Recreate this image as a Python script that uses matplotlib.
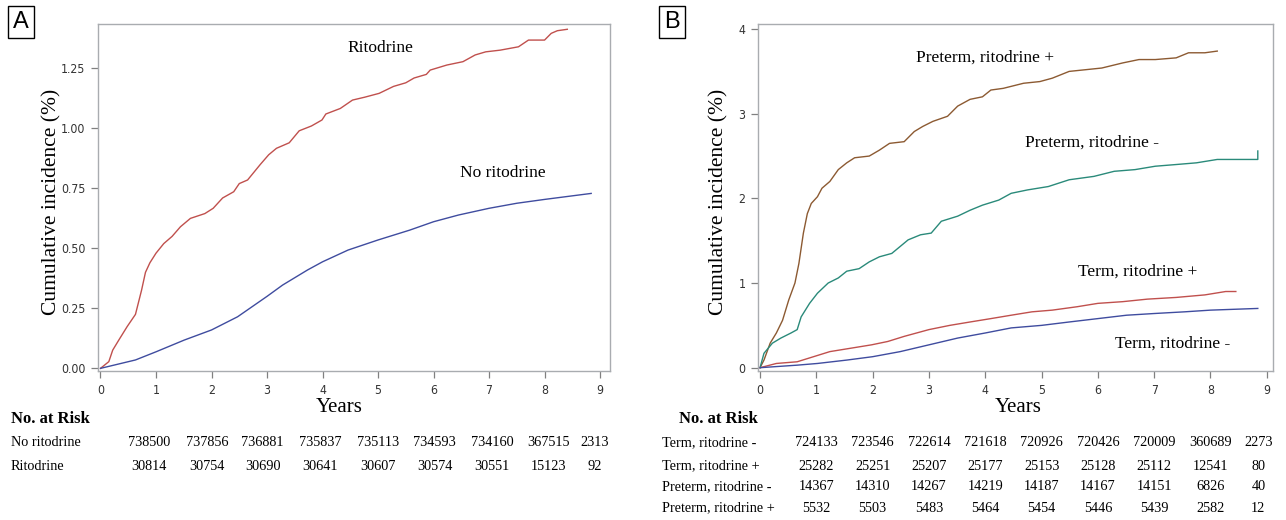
import matplotlib
matplotlib.use("Agg")
import matplotlib.pyplot as plt
import matplotlib.transforms as mtransforms
from matplotlib import font_manager

# ---- data ----
years_ticks = [0, 1, 2, 3, 4, 5, 6, 7, 8, 9]

# Panel A
rito_t = [0, 0.15, 0.22, 0.33, 0.48, 0.63, 0.74, 0.81, 0.89, 1.0, 1.14, 1.29, 1.44, 1.62, 1.88,
          2.03, 2.2, 2.4, 2.5, 2.65, 2.88, 3.03, 3.17, 3.4, 3.58, 3.8, 3.99, 4.06, 4.32, 4.54,
          4.76, 5.02, 5.28, 5.5, 5.65, 5.87, 5.94, 6.24, 6.53, 6.75, 6.94, 7.2, 7.53, 7.71,
          8.0, 8.12, 8.23, 8.41]
rito_v = [0, 0.028, 0.076, 0.118, 0.174, 0.225, 0.326, 0.40, 0.44, 0.48, 0.52, 0.55, 0.59, 0.625, 0.645,
          0.667, 0.71, 0.736, 0.77, 0.785, 0.85, 0.89, 0.917, 0.94, 0.99, 1.01, 1.035, 1.06, 1.083, 1.118,
          1.13, 1.146, 1.175, 1.19, 1.21, 1.225, 1.243, 1.264, 1.278, 1.306, 1.319, 1.326, 1.34, 1.368,
          1.368, 1.396, 1.407, 1.413]
norito_t = [0, 0.63, 1.0, 1.51, 2.0, 2.47, 3.0, 3.28, 3.73, 4.0, 4.46, 5.0, 5.57, 6.0, 6.45, 7.0,
            7.5, 8.0, 8.84]
norito_v = [0, 0.035, 0.069, 0.118, 0.16, 0.215, 0.30, 0.347, 0.41, 0.444, 0.493, 0.535, 0.576,
            0.611, 0.639, 0.667, 0.688, 0.704, 0.729]

# Panel B
pre_pos_t = [0, 0.07, 0.18, 0.29, 0.4, 0.51, 0.62, 0.69, 0.77, 0.84, 0.91, 1.02, 1.1, 1.24, 1.39,
             1.54, 1.68, 1.94, 2.12, 2.3, 2.56, 2.74, 2.89, 3.07, 3.33, 3.51, 3.73, 3.95, 4.1,
             4.32, 4.68, 4.97, 5.19, 5.49, 5.78, 6.07, 6.44, 6.73, 7.02, 7.39, 7.61, 7.9, 8.12]
pre_pos_v = [0, 0.09, 0.29, 0.41, 0.56, 0.80, 1.0, 1.23, 1.59, 1.82, 1.94, 2.02, 2.12, 2.2, 2.34,
             2.42, 2.48, 2.5, 2.57, 2.65, 2.67, 2.79, 2.85, 2.91, 2.97, 3.09, 3.17, 3.2, 3.28,
             3.3, 3.36, 3.38, 3.42, 3.5, 3.52, 3.54, 3.6, 3.64, 3.64, 3.66, 3.72, 3.72, 3.74]
pre_neg_t = [0, 0.07, 0.22, 0.37, 0.55, 0.66, 0.73, 0.88, 1.02, 1.21, 1.39, 1.54, 1.76, 1.94, 2.12,
             2.34, 2.63, 2.85, 3.04, 3.22, 3.51, 3.73, 3.95, 4.24, 4.46, 4.75, 5.12, 5.49, 5.93,
             6.29, 6.66, 7.02, 7.39, 7.75, 8.12, 8.84, 8.84]
pre_neg_v = [0, 0.17, 0.29, 0.35, 0.41, 0.45, 0.6, 0.76, 0.88, 1.0, 1.06, 1.14, 1.17, 1.25, 1.31,
             1.35, 1.51, 1.57, 1.59, 1.73, 1.79, 1.86, 1.92, 1.98, 2.06, 2.1, 2.14, 2.22, 2.26,
             2.32, 2.34, 2.38, 2.4, 2.42, 2.46, 2.46, 2.56]
term_pos_t = [0, 0.29, 0.66, 0.95, 1.24, 1.61, 1.98, 2.27, 2.56, 3.0, 3.37, 3.73, 4.1, 4.46, 4.83,
              5.19, 5.63, 6.0, 6.44, 6.88, 7.39, 7.9, 8.27, 8.45]
term_pos_v = [0, 0.05, 0.07, 0.13, 0.19, 0.23, 0.27, 0.31, 0.37, 0.45, 0.5, 0.54, 0.58, 0.62, 0.66,
              0.68, 0.72, 0.76, 0.78, 0.81, 0.83, 0.86, 0.9, 0.9]
term_neg_t = [0, 0.66, 1.02, 1.54, 2.0, 2.49, 3.0, 3.51, 4.0, 4.46, 5.0, 5.49, 6.0, 6.51, 7.0,
              7.54, 8.0, 8.84]
term_neg_v = [0, 0.03, 0.05, 0.09, 0.13, 0.19, 0.27, 0.35, 0.41, 0.47, 0.5, 0.54, 0.58, 0.62,
              0.64, 0.66, 0.68, 0.70]

# numbers at risk
risk_labels_a = ["No ritodrine", "Ritodrine"]
risk_a = [
    [738500, 737856, 736881, 735837, 735113, 734593, 734160, 367515, 2313],
    [30814, 30754, 30690, 30641, 30607, 30574, 30551, 15123, 92],
]
risk_labels_b = ["Term, ritodrine -", "Term, ritodrine +", "Preterm, ritodrine -", "Preterm, ritodrine +"]
risk_b = [
    [724133, 723546, 722614, 721618, 720926, 720426, 720009, 360689, 2273],
    [25282, 25251, 25207, 25177, 25153, 25128, 25112, 12541, 80],
    [14367, 14310, 14267, 14219, 14187, 14167, 14151, 6826, 40],
    [5532, 5503, 5483, 5464, 5454, 5446, 5439, 2582, 12],
]

# ---- layout / style ----
W, H = 1286, 520
SERIF = "Liberation Serif"
names = {f.name for f in font_manager.fontManager.ttflist}
TICKFONT = "Liberation Sans Narrow" if "Liberation Sans Narrow" in names else "DejaVu Sans"
RED, BLUE, BROWN, TEAL = "#c0504d", "#3f4c9f", "#8c5a32", "#2a8a7a"
SPINE = "#a9acb0"

# column x positions of the at-risk numbers (data units)
cols_a = [0.87, 1.92, 2.92, 3.95, 5.0, 6.02, 7.05, 8.08, 8.9]
cols_b = [1.0, 2.0, 3.0, 4.0, 5.0, 6.0, 7.0, 8.0, 8.85]

fig = plt.figure(figsize=(W / 100, H / 100), dpi=100)


def px_axes(x0, x1, y0, y1):
    return fig.add_axes([x0 / W, 1 - y1 / H, (x1 - x0) / W, (y1 - y0) / H])


def style(ax, fmt):
    for s in ax.spines.values():
        s.set_color(SPINE)
        s.set_linewidth(1.0)
    ax.tick_params(direction="out", length=5, width=0.9, color="#808080",
                   labelsize=8.8, labelcolor="#333333", pad=4)
    ax.set_xticks(years_ticks)
    ax.yaxis.set_major_formatter(plt.FormatStrFormatter(fmt))
    for lab in ax.get_xticklabels() + ax.get_yticklabels():
        lab.set_family(TICKFONT)
        lab.set_stretch("condensed")


# Panel A
axA = px_axes(98, 609.5, 24, 371)
axA.plot(rito_t, rito_v, color=RED, lw=1.0)
axA.plot(norito_t, norito_v, color=BLUE, lw=1.0)
axA.set_xlim(-0.045, 9.17)
axA.set_ylim(-0.011, 1.435)
axA.set_yticks([0, 0.25, 0.5, 0.75, 1.0, 1.25])
style(axA, "%.2f")
axA.text(5.04, 1.335, "Ritodrine", family=SERIF, fontsize=12.5, ha="center", va="center")
axA.text(7.25, 0.814, "No ritodrine", family=SERIF, fontsize=12.5, ha="center", va="center")

# Panel B
axB = px_axes(758, 1273, 24, 371)
axB.plot(pre_pos_t, pre_pos_v, color=BROWN, lw=1.0)
axB.plot(pre_neg_t, pre_neg_v, color=TEAL, lw=1.0)
axB.plot(term_pos_t, term_pos_v, color=RED, lw=1.0)
axB.plot(term_neg_t, term_neg_v, color=BLUE, lw=1.0)
axB.set_xlim(-0.036, 9.11)
axB.set_ylim(-0.039, 4.06)
axB.set_yticks([0, 1, 2, 3, 4])
style(axB, "%d")
axB.text(4.0, 3.66, "Preterm, ritodrine +", family=SERIF, fontsize=12.5, ha="center", va="center")
axB.text(5.9, 2.66, "Preterm, ritodrine -", family=SERIF, fontsize=12.5, ha="center", va="center")
axB.text(6.7, 1.13, "Term, ritodrine +", family=SERIF, fontsize=12.5, ha="center", va="center")
axB.text(7.32, 0.29, "Term, ritodrine -", family=SERIF, fontsize=12.5, ha="center", va="center")

# y labels
for xp in [52, 719]:
    fig.text(xp / W, 1 - 202 / H, "Cumulative incidence (%)", family=SERIF, fontsize=15.5,
             rotation=90, ha="center", va="center")

# x labels
fig.text(339 / W, 1 - 408 / H, "Years", family=SERIF, fontsize=15, ha="center", va="center")
fig.text(1018 / W, 1 - 408 / H, "Years", family=SERIF, fontsize=15, ha="center", va="center")

# panel letters
for xp, letter in [(21, "A"), (672, "B")]:
    fig.text(xp / W, 1 - 22 / H, letter, family="Liberation Sans", fontsize=17,
             ha="center", va="center",
             bbox=dict(boxstyle="square,pad=0.2", fc="white", ec="black", lw=1.0))

# at-risk tables
def risk_table(ax, x_label, title_x, title_ha, labels, rows, cols, row_y):
    tr = mtransforms.blended_transform_factory(ax.transData, fig.transFigure)
    fig.text(title_x / W, 1 - 419 / H, "No. at Risk", family=SERIF, fontsize=12,
             fontweight="bold", ha=title_ha, va="center")
    for lab, vals, yp in zip(labels, rows, row_y):
        fig.text(x_label / W, 1 - yp / H, lab, family=SERIF, fontsize=10.3, ha="left", va="center")
        for xc, v in zip(cols, vals):
            fig.text(xc, 1 - yp / H, str(v), family=SERIF, fontsize=10.3,
                     ha="center", va="center", transform=tr)


risk_table(axA, 11, 11, "left", risk_labels_a, risk_a, cols_a, [443, 466])
risk_table(axB, 662, 718, "center", risk_labels_b, risk_b, cols_b, [443, 466, 487, 508])

fig.savefig("out.png", dpi=100)
